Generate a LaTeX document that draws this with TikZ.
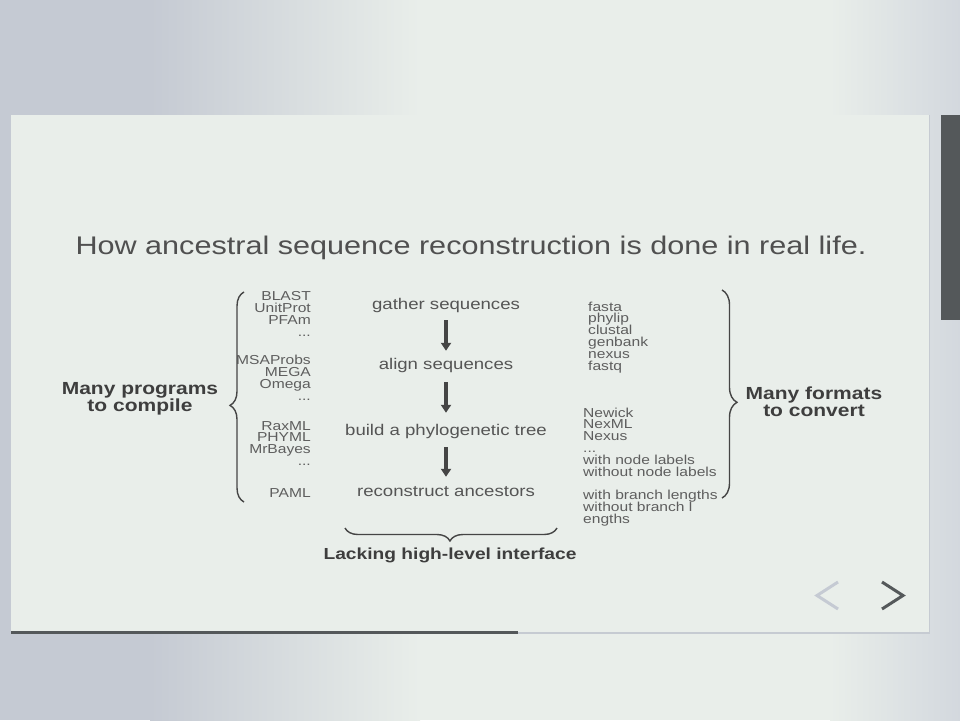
\documentclass[tikz,border=0pt]{standalone}
\usepackage{fontspec}
\setmainfont[FakeStretch=1.2]{Liberation Sans}
\usetikzlibrary{arrows.meta,decorations.pathreplacing}
\setlength{\lineskiplimit}{-20pt}
\setlength{\lineskip}{0pt}
\definecolor{basebg}{HTML}{E9EEEA}
\definecolor{bgdark}{HTML}{C5CAD3}
\definecolor{bgright}{HTML}{D3D8DE}
\definecolor{edgegrey}{HTML}{C6CBD2}
\definecolor{barcol}{HTML}{54585A}
\definecolor{titlecol}{HTML}{505050}
\definecolor{stepcol}{HTML}{555555}
\definecolor{listcol}{HTML}{5E5E5E}
\definecolor{labelcol}{HTML}{3E3E3E}
\definecolor{inkcol}{HTML}{454545}
\begin{document}
\begin{tikzpicture}[x=1pt,y=-1pt,
  titletext/.style={inner sep=0pt,text=titlecol,font=\fontsize{25.5}{28}\selectfont},
  steptext/.style={inner sep=0pt,anchor=base,text=stepcol,text height=11pt,text depth=3.5pt,
    font=\fontsize{15.5}{17}\selectfont},
  listtext/.style={inner sep=0pt,text=listcol,
    font=\fontsize{13}{11.8}\selectfont},
  boldlabel/.style={inner sep=0pt,align=center,text=labelcol,
    font=\fontsize{17.5}{16.8}\selectfont\bfseries},
  flowarrow/.style={draw=inkcol,line width=4pt,-{Triangle[width=10pt,length=8pt]}},
  bracestyle/.style={draw=inkcol,line width=1.4pt,decorate},
  chevron/.style={line width=3pt}]

% backdrop
\useasboundingbox (0,0) rectangle (960,720);
\fill[basebg] (0,0) rectangle (960,720);
\fill[bgdark] (0,0) rectangle (150,720);
\shade[left color=bgdark,right color=basebg] (150,0) rectangle (420,720);
\shade[left color=basebg,right color=bgright] (830,0) rectangle (960,720);

% slide panel
\fill[basebg] (11,115) rectangle (929,632);
\draw[edgegrey,line width=1pt] (929,115) -- (929,633);
\draw[edgegrey,line width=2pt] (518,632.5) -- (930,632.5);
\draw[barcol,line width=2.5pt] (11,632.5) -- (518,632.5);

% scroll bar
\fill[barcol] (941,115) rectangle (960,320);

% title
\node[titletext] (title) at (471,248) {How ancestral sequence reconstruction is done in real life.};

% pipeline steps
\node[steptext] (gather) at (446,309) {gather sequences};
\node[steptext] (align) at (446,369) {align sequences};
\node[steptext] (build) at (446,435) {build a phylogenetic tree};
\node[steptext] (recon) at (446,496) {reconstruct ancestors};

\draw[flowarrow,shorten <=7.5pt,shorten >=7pt] (gather.south) -- (align.north);
\draw[flowarrow,shorten <=9.5pt,shorten >=11pt] (align.south) -- (build.north);
\draw[flowarrow,shorten <=8.5pt,shorten >=8pt] (build.south) -- (recon.north);

% programs
\node[listtext,align=right,anchor=north east] (progA) at (311,291.5) {BLAST\\UnitProt\\PFAm\\...};
\node[listtext,align=right,anchor=north east] (progB) at (311,355) {MSAProbs\\MEGA\\Omega\\...};
\node[listtext,align=right,anchor=north east] (progC) at (311,421) {RaxML\\PHYML\\MrBayes\\...};
\node[listtext,anchor=east] (progD) at (311,493) {PAML};

% formats
\node[listtext,align=left,anchor=north west] (fmtA) at (588,301.5)
  {fasta\\phylip\\clustal\\genbank\\nexus\\fastq};
\node[listtext,align=left,anchor=north west] (fmtB) at (583,407.5)
  {Newick\\NexML\\Nexus\\...\\with node labels\\without node labels\\ \\with branch lengths\\without branch l\\engths};

% braces
\coordinate (lbBot) at (244,502);
\coordinate (lbTop) at (244,292);
\draw[bracestyle,decoration={brace,amplitude=14pt,aspect=0.46}] (lbBot) -- (lbTop);
\coordinate (rbTop) at (722,290);
\coordinate (rbBot) at (722,498);
\draw[bracestyle,decoration={brace,amplitude=15pt,aspect=0.54}] (rbTop) -- (rbBot);
\coordinate (bbRight) at (557,528);
\coordinate (bbLeft) at (345,528);
\draw[bracestyle,decoration={brace,amplitude=13pt,aspect=0.505}] (bbRight) -- (bbLeft);

% side and bottom labels
\node[boldlabel] (progLabel) at (140,399) {Many programs\\to compile};
\node[boldlabel] (fmtLabel) at (814,401.5) {Many formats\\to convert};
\node[boldlabel,font=\fontsize{16}{18}\selectfont\bfseries] (ifaceLabel) at (450,555) {Lacking high-level interface};

% navigation chevrons
\draw[chevron,bgdark] (838,582) -- (817,595.5) -- (838,609);
\draw[chevron,barcol] (882,582) -- (903,595.5) -- (882,609);
\end{tikzpicture}
\end{document}
